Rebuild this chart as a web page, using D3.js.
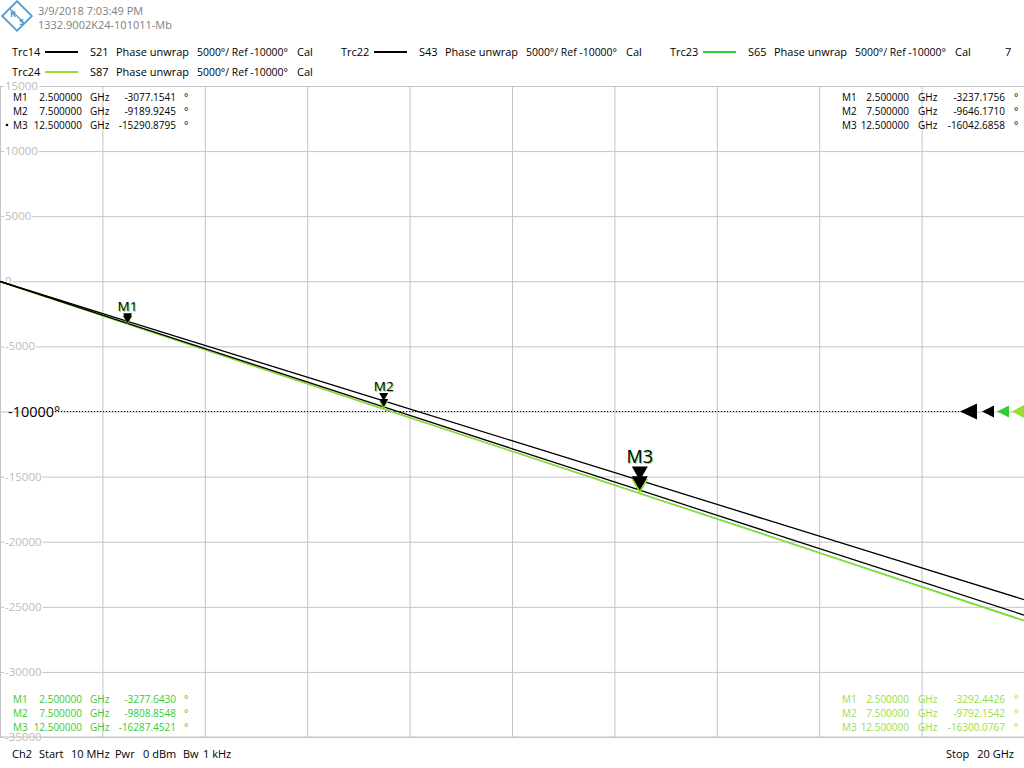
<!DOCTYPE html>
<html><head><meta charset="utf-8">
<script src="https://cdn.jsdelivr.net/npm/d3@7"></script>
<style>
html,body{margin:0;padding:0;background:#fff;}
svg{display:block;font-family:"Open Sans",sans-serif;}
</style></head>
<body>
<script>
// ---- data ----
const freqGHz = [0.01, 2.5, 5, 7.5, 10, 12.5, 15, 17.5, 20];
const s21 = [-12, -3077.1541, -6135, -9189.9245, -12240, -15290.8795, -18345, -21395, -24450];
const s43 = [-13, -3237.1756, -6440, -9646.1710, -12845, -16042.6858, -19240, -22440, -25640];
const s65 = [-13, -3277.6430, -6545, -9808.8548, -13050, -16287.4521, -19530, -22790, -26050];
const s87 = [-13, -3292.4426, -6540, -9792.1542, -13050, -16300.0767, -19560, -22830, -26090];
const markerFreqs = [2.5, 7.5, 12.5];
const markerNames = ["M1", "M2", "M3"];
const yTickValues = [15000, 10000, 5000, 0, -5000, -10000, -15000, -20000, -25000, -30000, -35000];
const refValue = -10000;
const startGHz = 0.01, stopGHz = 20;

const traces = [
  {name:"Trc23", param:"S65", color:"#33cc33", values:s65, table:"bl"},
  {name:"Trc24", param:"S87", color:"#99dd33", values:s87, table:"br"},
  {name:"Trc22", param:"S43", color:"#000000", values:s43, table:"tr"},
  {name:"Trc14", param:"S21", color:"#000000", values:s21, table:"tl"}
];

const W = 1024, H = 768;
const svg = d3.select("body").append("svg").attr("width", W).attr("height", H);

const x = d3.scaleLinear().domain([startGHz, stopGHz]).range([0, 1024]);
const y = d3.scaleLinear().domain([15000, -35000]).range([86, 737]);

// header
const logo = svg.append("g").attr("transform","translate(17,16)");
logo.append("rect").attr("x",-10.5).attr("y",-10.5).attr("width",21).attr("height",21)
  .attr("transform","rotate(45)").attr("fill","#fff").attr("stroke","#4f9bd2").attr("stroke-width",1.8);
logo.append("line").attr("x1",-7).attr("y1",-7).attr("x2",7).attr("y2",7).attr("stroke","#4f9bd2").attr("stroke-width",1.3);
logo.append("text").attr("x",-4).attr("y",1).attr("text-anchor","middle").attr("font-size",9).attr("font-weight","bold").attr("fill","#4f9bd2").text("R");
logo.append("text").attr("x",4.5).attr("y",9).attr("text-anchor","middle").attr("font-size",9).attr("font-weight","bold").attr("fill","#4f9bd2").text("S");
svg.append("text").attr("x",38).attr("y",15).attr("font-size",11).attr("fill","#808080").text("3/9/2018 7:03:49 PM");
svg.append("text").attr("x",38).attr("y",29).attr("font-size",11).attr("fill","#808080").text("1332.9002K24-101011-Mb");

// legend
const legendItems = [
  {t:traces[3], x0:12, y0:56},
  {t:traces[2], x0:341, y0:56},
  {t:traces[0], x0:670, y0:56},
  {t:traces[1], x0:12, y0:76}
];
legendItems.forEach(li => {
  const g = svg.append("g").attr("font-size",11).attr("fill","#000");
  g.append("text").attr("x",li.x0).attr("y",li.y0).text(li.t.name);
  g.append("line").attr("x1",li.x0+33).attr("x2",li.x0+66).attr("y1",li.y0-4).attr("y2",li.y0-4)
    .attr("stroke",li.t.color).attr("stroke-width",2.2);
  g.append("text").attr("x",li.x0+78).attr("y",li.y0).text(li.t.param);
  g.append("text").attr("x",li.x0+104).attr("y",li.y0).attr("textLength",73).attr("lengthAdjust","spacingAndGlyphs").text("Phase unwrap");
  g.append("text").attr("x",li.x0+185).attr("y",li.y0).attr("textLength",91).attr("lengthAdjust","spacingAndGlyphs").text("5000°/ Ref -10000°");
  g.append("text").attr("x",li.x0+285).attr("y",li.y0).text("Cal");
});
svg.append("text").attr("x",1005).attr("y",56).attr("font-size",11).text("7");

// grid
const xTickValues = d3.range(0, 11).map(i => startGHz + i*(stopGHz-startGHz)/10);
svg.append("g").attr("transform","translate(0,86)")
  .call(d3.axisBottom(x).tickValues(xTickValues).tickSize(651).tickFormat(""))
  .call(g => { g.select(".domain").remove(); g.selectAll("line").attr("stroke","#c4c4c4"); });
svg.append("g")
  .call(d3.axisRight(y).tickValues(yTickValues).tickSize(1024).tickFormat(""))
  .call(g => { g.select(".domain").remove(); g.selectAll("line").attr("stroke","#c4c4c4"); });
svg.append("line").attr("x1",0).attr("x2",0).attr("y1",86).attr("y2",737).attr("stroke","#c4c4c4");

// y labels
yTickValues.forEach(v => {
  if (v === refValue) return;
  const t = svg.append("text").attr("x",5).attr("y",y(v)+4).attr("font-size",11.5).attr("fill","#bcbcbc").text(v);
  const bb = t.node().getBBox();
  svg.insert("rect", function(){ return t.node(); }).attr("x",bb.x-1).attr("y",y(v)-2).attr("width",bb.width+2).attr("height",4).attr("fill","#fff");
});

// reference line
svg.append("line").attr("x1",55).attr("x2",960).attr("y1",y(refValue)).attr("y2",y(refValue))
  .attr("stroke","#000").attr("stroke-dasharray","1.2,1.8").attr("stroke-width",1);
svg.append("text").attr("x",8).attr("y",y(refValue)+5).attr("font-size",14.5).attr("fill","#000").text("-10000°");
const refArrows = [
  {x0:960, w:17, h:16, c:"#000"},
  {x0:982, w:12, h:12, c:"#000"},
  {x0:997, w:12, h:12, c:"#33cc33"},
  {x0:1012, w:12, h:13, c:"#99dd33"}
];
refArrows.forEach(a => {
  const yy = y(refValue);
  svg.append("path").attr("d",`M${a.x0},${yy} L${a.x0+a.w},${yy-a.h/2} L${a.x0+a.w},${yy+a.h/2} Z`).attr("fill",a.c);
});

// traces
const line = d3.line().x(d => x(d[0])).y(d => y(d[1]));
const plot = svg.append("g");
plot.append("clipPath").attr("id","clip").append("rect").attr("x",0).attr("y",86).attr("width",1024).attr("height",651);
traces.forEach(t => {
  plot.append("path").datum(freqGHz.map((f,i)=>[f,t.values[i]]))
    .attr("clip-path","url(#clip)")
    .attr("d", line).attr("fill","none").attr("stroke",t.color).attr("stroke-width",1.3);
});

// markers on traces
function interp(vals, f){
  for (let i=0;i<freqGHz.length-1;i++){
    if (f>=freqGHz[i] && f<=freqGHz[i+1]){
      const r=(f-freqGHz[i])/(freqGHz[i+1]-freqGHz[i]);
      return vals[i]+r*(vals[i+1]-vals[i]);
    }
  }
  return vals[vals.length-1];
}
traces.forEach(t => {
  markerFreqs.forEach((f,k) => {
    const px = x(f), py = y(interp(t.values,f));
    const big = k===2;
    const w = big?16:9, h = big?14:8;
    svg.append("path").attr("d",`M${px},${py} L${px-w/2},${py-h} L${px+w/2},${py-h} Z`).attr("fill",t.color);
  });
});
// marker labels (active trace S21, with green shadow)
markerFreqs.forEach((f,k) => {
  const px = x(f), py = y(interp(s21,f));
  const big = k===2;
  const fs = big?18:13.5;
  const dy = big?-17:-10;
  svg.append("text").attr("x",px+1).attr("y",py+dy+1).attr("text-anchor","middle").attr("font-size",fs)
    .attr("fill","#66dd33").attr("opacity",0.8).text(markerNames[k]);
  svg.append("text").attr("x",px).attr("y",py+dy).attr("text-anchor","middle").attr("font-size",fs)
    .attr("fill","#000").text(markerNames[k]);
});

// marker tables
const tablePos = {
  tl:{x:13, y:101, c:"#000"},
  tr:{x:842, y:101, c:"#000"},
  bl:{x:13, y:703, c:"#33cc33"},
  br:{x:842, y:703, c:"#99dd44"}
};
traces.forEach(t => {
  const p = tablePos[t.table];
  const right = t.table[1]==="r";
  markerFreqs.forEach((f,k) => {
    const yy = p.y + k*14;
    const g = svg.append("g").attr("font-size",10).attr("fill",p.c);
    g.append("text").attr("x",p.x).attr("y",yy).text(markerNames[k]);
    g.append("text").attr("x",p.x+(right?67:69)).attr("y",yy).attr("text-anchor","end").text(f.toFixed(6));
    g.append("text").attr("x",p.x+(right?76:77)).attr("y",yy).text("GHz");
    g.append("text").attr("x",p.x+163).attr("y",yy).attr("text-anchor","end").text(t.values[freqGHz.indexOf(f)].toFixed(4));
    g.append("text").attr("x",p.x+(right?172:171)).attr("y",yy).text("°");
  });
});
svg.append("circle").attr("cx",7).attr("cy",125).attr("r",1.3).attr("fill","#000");

// footer
svg.append("line").attr("x1",0).attr("x2",1024).attr("y1",737).attr("y2",737).attr("stroke","#c4c4c4");
const footerItems = [["Ch2",12],["Start",39],["10 MHz",71],["Pwr",115],["0 dBm",143],["Bw",183],["1 kHz",203]];
footerItems.forEach(([s,xx]) => svg.append("text").attr("x",xx).attr("y",758).attr("font-size",11).text(s));
svg.append("text").attr("x",946).attr("y",758).attr("font-size",11).text("Stop");
svg.append("text").attr("x",1014).attr("y",758).attr("font-size",11).attr("text-anchor","end").text("20 GHz");
</script>
</body></html>
